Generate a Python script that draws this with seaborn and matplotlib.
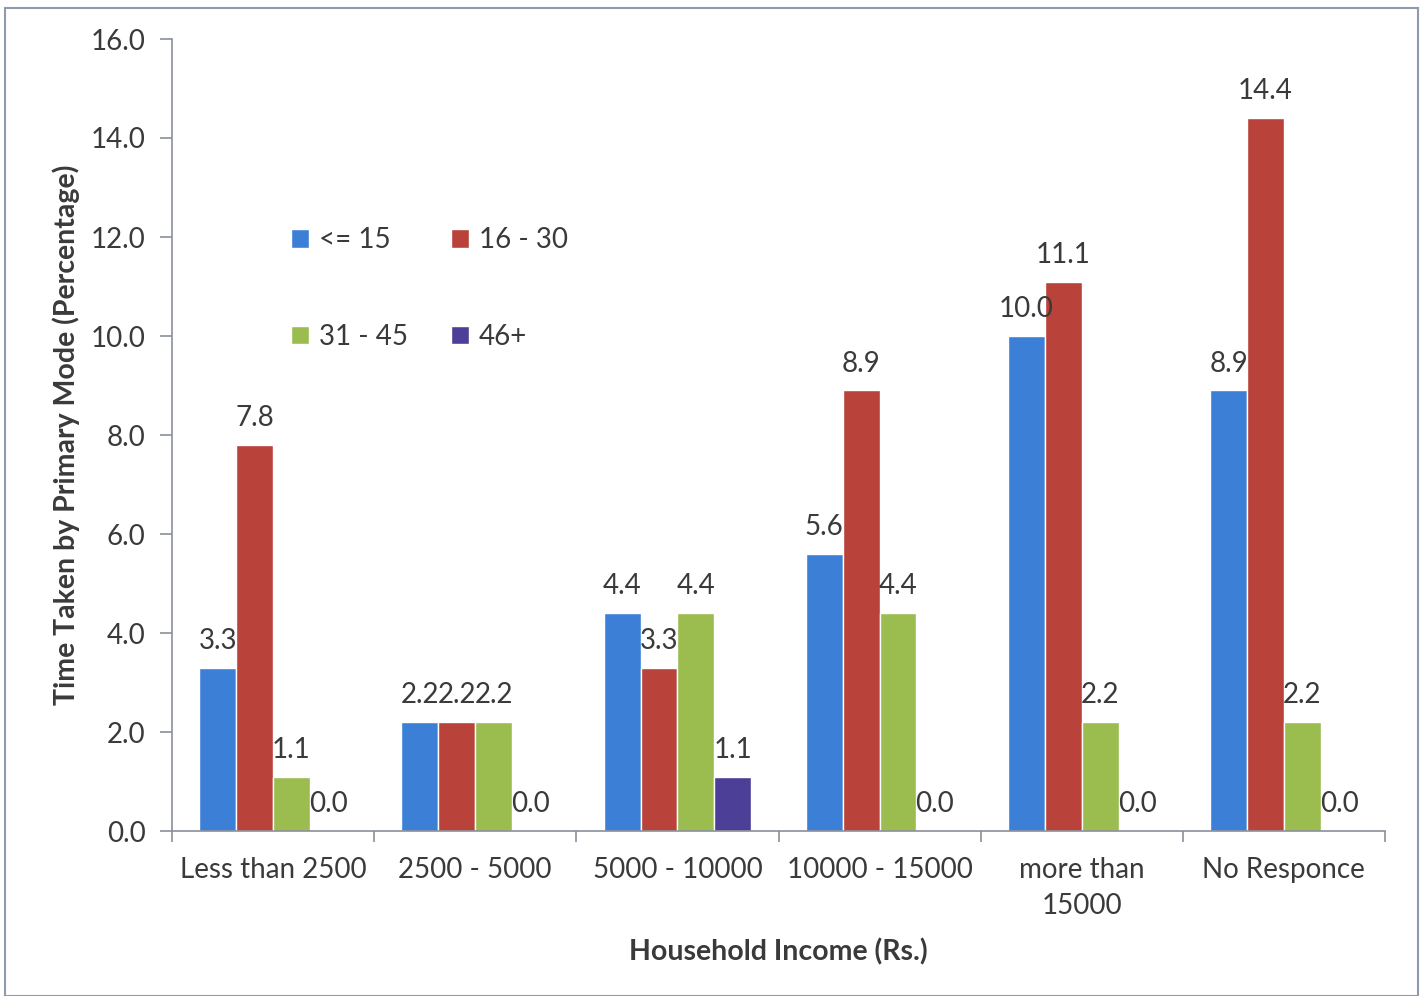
import matplotlib
matplotlib.use("Agg")
import matplotlib.pyplot as plt
from matplotlib.patches import Rectangle
import seaborn as sns
import pandas as pd

# Household income bands and commute-time groups (minutes)
income_bands = ["Less than 2500", "2500 - 5000", "5000 - 10000",
                "10000 - 15000", "more than\n15000", "No Responce"]
time_groups = ["<= 15", "16 - 30", "31 - 45", "46+"]

share_le15 = [3.3, 2.2, 4.4, 5.6, 10.0, 8.9]
share_16_30 = [7.8, 2.2, 3.3, 8.9, 11.1, 14.4]
share_31_45 = [1.1, 2.2, 4.4, 4.4, 2.2, 2.2]
share_46p = [0.0, 0.0, 1.1, 0.0, 0.0, 0.0]

colors = ["#3b7fd6", "#b9433a", "#9bbd4f", "#4c3f97"]

rows = []
for grp, vals in zip(time_groups, [share_le15, share_16_30, share_31_45, share_46p]):
    for band, v in zip(income_bands, vals):
        rows.append({"Income": band, "Group": grp, "Value": v})
df = pd.DataFrame(rows)

sns.set_theme(style="white")
plt.rcParams["font.family"] = ["Lato", "DejaVu Sans"]
text_color = "#3a3a3a"
axis_color = "#8a8f98"
fs = 20

fig = plt.figure(figsize=(14.26, 9.96), dpi=100)
ax = fig.add_axes([172 / 1426, 1 - 831 / 996, (1385 - 172) / 1426, (831 - 39) / 996])

sns.barplot(data=df, x="Income", y="Value", hue="Group", order=income_bands,
            hue_order=time_groups, palette=colors, saturation=1, width=0.73,
            ax=ax, legend=True)

for cont in ax.containers:
    ax.bar_label(cont, fmt="%.1f", padding=10, fontsize=fs, color=text_color)

ax.set_ylim(0, 16)
ax.set_xlim(-0.5, len(income_bands) - 0.5)
ax.set_yticks([i * 2 for i in range(9)])
ax.set_yticklabels([f"{i * 2:.1f}" for i in range(9)])
ax.tick_params(axis="y", direction="out", length=9, width=1.2, color=axis_color,
               labelsize=fs, labelcolor=text_color, pad=10, left=True)
ax.set_xticks(range(len(income_bands)))
ax.set_xticklabels(income_bands, linespacing=1.45)
ax.tick_params(axis="x", length=0, labelsize=fs, labelcolor=text_color, pad=19)
ax.set_xticks([i - 0.5 for i in range(len(income_bands) + 1)], minor=True)
ax.tick_params(axis="x", which="minor", direction="out", length=8, width=1.2,
               color=axis_color, bottom=True)

for side in ["top", "right"]:
    ax.spines[side].set_visible(False)
for side in ["left", "bottom"]:
    ax.spines[side].set_color(axis_color)
    ax.spines[side].set_linewidth(1.2)

ax.set_xlabel("Household Income (Rs.)", fontsize=20.5, fontweight="bold",
              color=text_color, labelpad=14)
ax.set_ylabel("Time Taken by Primary Mode (Percentage)", fontsize=20.5,
              fontweight="bold", color=text_color, labelpad=8)

# Legend filled row by row: (<= 15, 16 - 30) then (31 - 45, 46+)
handles, labels = ax.get_legend_handles_labels()
order = [0, 2, 1, 3]
ax.legend([handles[i] for i in order], [labels[i] for i in order],
          ncol=2, loc="upper left", bbox_to_anchor=(0.087, 0.78), frameon=False,
          fontsize=fs, handlelength=0.65, handleheight=0.65, handletextpad=0.35,
          columnspacing=1.55, labelspacing=2.55, borderpad=0)
for t in ax.get_legend().get_texts():
    t.set_color(text_color)

fig.patches.append(Rectangle((5 / 1426, 0), 1413 / 1426, 1 - 8 / 996,
                             transform=fig.transFigure, fill=False,
                             edgecolor="#8d9ab0", linewidth=1.5))

fig.savefig("out.png", dpi=100)
